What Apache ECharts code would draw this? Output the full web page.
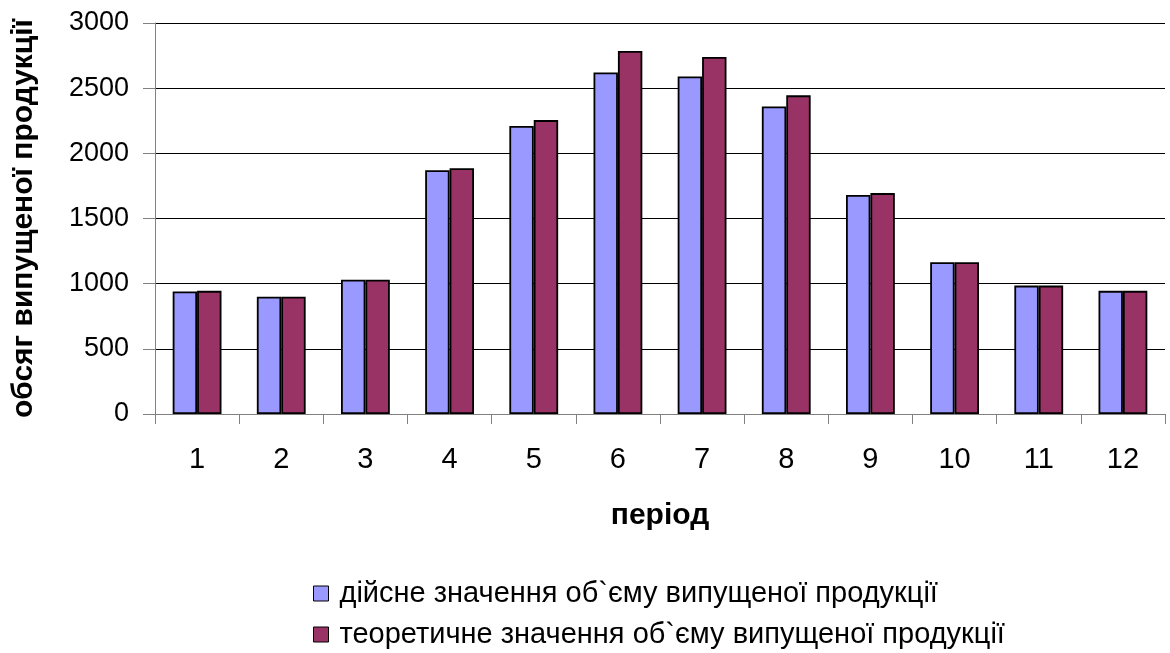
<!DOCTYPE html>
<html>
<head>
<meta charset="utf-8">
<script src="https://cdn.jsdelivr.net/npm/echarts@6/dist/echarts.min.js"></script>
<style>
  html, body { margin: 0; padding: 0; background: #fff; }
  #chart { width: 1170px; height: 653px; }
</style>
</head>
<body>
<div id="chart"></div>
<script>
// Production output by period: actual vs theoretical
const periods = ['1', '2', '3', '4', '5', '6', '7', '8', '9', '10', '11', '12'];
const actualValues = [940, 900, 1030, 1870, 2210, 2620, 2590, 2360, 1680, 1165, 985, 945];
const theoreticalValues = [945, 900, 1030, 1885, 2255, 2785, 2740, 2445, 1695, 1165, 985, 945];
const yTicks = [0, 500, 1000, 1500, 2000, 2500, 3000];

const seriesNames = [
  'дійсне значення об`єму випущеної продукції',
  'теоретичне значення об`єму випущеної продукції'
];
const xAxisTitle = 'період';
const yAxisTitle = 'обсяг випущеної продукції';

const FONT = "'Liberation Sans', Arial, sans-serif";

const chart = echarts.init(document.getElementById('chart'), null, { renderer: 'canvas' });

// one legend block per series, stacked vertically below the plot
const legendRow = (name, top) => ({
  left: 313,
  top: top,
  itemWidth: 15,
  itemHeight: 15,
  icon: 'rect',
  padding: 0,
  itemStyle: { borderColor: '#000', borderWidth: 1 },
  textStyle: { fontFamily: FONT, fontSize: 29, color: '#000', padding: [0, 0, 0, 6] },
  data: [name]
});

chart.setOption({
  animation: false,
  backgroundColor: '#ffffff',
  textStyle: { fontFamily: FONT, color: '#000' },
  grid: { left: 155, right: 5, top: 23, bottom: 239, containLabel: false, outerBoundsMode: 'none' },
  legend: [legendRow(seriesNames[0], 579), legendRow(seriesNames[1], 620)],
  xAxis: {
    type: 'category',
    data: periods,
    boundaryGap: true,
    name: xAxisTitle,
    nameLocation: 'middle',
    nameGap: 87,
    nameTextStyle: { fontFamily: FONT, fontSize: 30, fontWeight: 'bold', color: '#000' },
    axisLine: { lineStyle: { color: '#808080', width: 1 } },
    axisTick: { show: true, length: 10, alignWithLabel: false, lineStyle: { color: '#808080' } },
    axisLabel: { fontFamily: FONT, fontSize: 29, color: '#000', margin: 31 },
    splitLine: { show: false }
  },
  yAxis: {
    type: 'value',
    min: yTicks[0],
    max: yTicks[yTicks.length - 1],
    interval: yTicks[1] - yTicks[0],
    name: yAxisTitle,
    nameLocation: 'middle',
    nameGap: 116,
    nameRotate: 90,
    nameTextStyle: { fontFamily: FONT, fontSize: 30, fontWeight: 'bold', color: '#000' },
    axisLine: { show: true, lineStyle: { color: '#808080', width: 1 } },
    axisTick: { show: true, length: 12, lineStyle: { color: '#808080' } },
    axisLabel: { fontFamily: FONT, fontSize: 27, color: '#000', margin: 26, formatter: v => String(v) },
    splitLine: { show: true, lineStyle: { color: '#000', width: 1 } }
  },
  series: [
    {
      name: seriesNames[0],
      type: 'bar',
      data: actualValues,
      barGap: '0%',
      barCategoryGap: '42%',
      itemStyle: { color: '#9999FF', borderColor: '#000', borderWidth: 1.8 }
    },
    {
      name: seriesNames[1],
      type: 'bar',
      data: theoreticalValues,
      barGap: '0%',
      barCategoryGap: '42%',
      itemStyle: { color: '#993366', borderColor: '#000', borderWidth: 1.8 }
    }
  ]
});
</script>
</body>
</html>
